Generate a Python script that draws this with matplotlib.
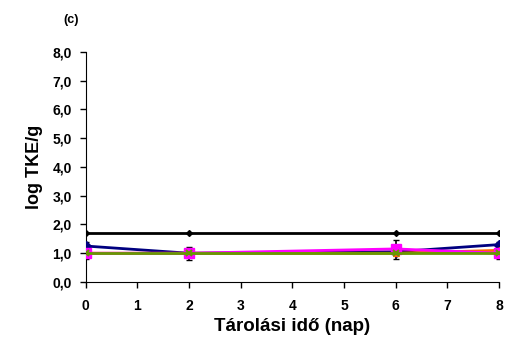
import matplotlib
matplotlib.use("Agg")
import matplotlib.pyplot as plt

days = [0, 2, 6, 8]
black_vals = [1.7, 1.7, 1.7, 1.7]
navy_vals = [1.25, 1.0, 1.05, 1.3]
navy_err = [0.15, 0.2, 0.05, 0.1]
magenta_vals = [1.0, 1.0, 1.15, 1.0]
magenta_err = [0.05, 0.05, 0.3, 0.05]
orange_vals = [1.0, 1.0, 1.0, 1.1]
green_vals = [1.0, 1.0, 1.0, 1.0]
green_err_low = [0.2, 0.25, 0.2, 0.2]

xticks = list(range(0, 9))
yticks = [0, 1, 2, 3, 4, 5, 6, 7, 8]
ytick_labels = ["0,0", "1,0", "2,0", "3,0", "4,0", "5,0", "6,0", "7,0", "8,0"]

plt.rcParams['font.family'] = ['Liberation Sans', 'DejaVu Sans']
fig = plt.figure(figsize=(5.17, 3.41), dpi=100)
ax = fig.add_axes([0.166, 0.173, 0.799, 0.675])

ax.plot(days, black_vals, color='black', lw=2, marker='D', ms=3, zorder=5)
ax.errorbar(days, green_vals, yerr=[green_err_low, [0]*4], fmt='none', ecolor='black', elinewidth=1.2, capsize=2.5, zorder=3)
ax.errorbar(days, navy_vals, yerr=[[0]*4, navy_err], fmt='none', ecolor='black', elinewidth=1.2, capsize=2.5, zorder=3)
ax.errorbar(days, magenta_vals, yerr=[[0]*4, magenta_err], fmt='none', ecolor='black', elinewidth=1.2, capsize=2.5, zorder=3)
ax.plot(days, navy_vals, color='#000080', lw=2, marker='D', ms=5, zorder=6)
ax.plot(days, orange_vals, color='#FF6600', lw=2, marker='^', ms=5, zorder=6)
ax.plot(days, magenta_vals, color='#FF00FF', lw=2, marker='s', ms=7, zorder=7)
ax.plot(days, green_vals, color='#669900', lw=2, marker='x', ms=5, mew=1.5, zorder=8)

ax.set_xlim(0, 8)
ax.set_ylim(0, 8)
ax.set_xticks(xticks)
ax.set_xticklabels([str(t) for t in xticks], fontsize=10, fontweight='bold')
ax.set_yticks(yticks)
ax.set_yticklabels(ytick_labels, fontsize=10, fontweight='bold')
ax.spines['top'].set_visible(False)
ax.spines['right'].set_visible(False)
ax.tick_params(axis='both', direction='out', length=4, width=1)
ax.tick_params(axis='x', pad=8)
ax.tick_params(axis='y', pad=6)
ax.set_xlabel('Tárolási idő (nap)', fontsize=13.5, fontweight='bold', labelpad=4)
ax.set_ylabel('log TKE/g', fontsize=13, fontweight='bold', labelpad=7)
fig.text(0.137, 0.94, '(c)', fontsize=9, fontweight='bold', ha='center', va='center')

fig.savefig('out.png', dpi=100)
